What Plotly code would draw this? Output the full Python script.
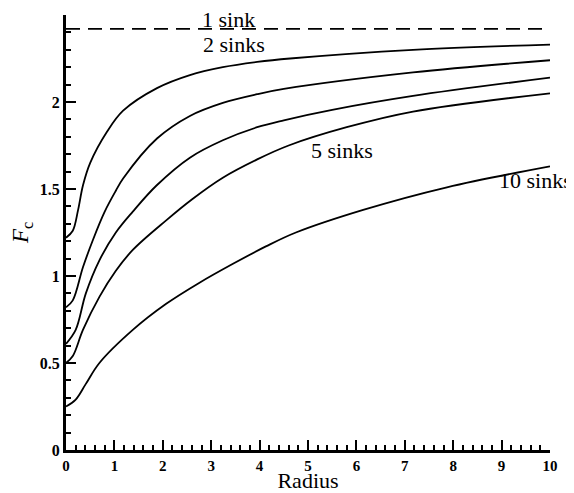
import plotly.graph_objects as go

# ---- data ----
one_sink_level = 2.42

x_2 = [0, 0.14, 0.25, 0.35, 0.5, 0.85, 1.18, 1.88, 2.56, 3.24, 3.95, 4.63, 7.17, 10]
y_2 = [1.22, 1.26, 1.38, 1.52, 1.65, 1.83, 1.95, 2.08, 2.155, 2.20, 2.23, 2.25, 2.30, 2.33]

x_3 = [0, 0.14, 0.35, 0.56, 0.8, 1.03, 1.18, 1.88, 2.56, 3.24, 3.95, 4.5, 7.17, 10]
y_3 = [0.82, 0.86, 1.05, 1.21, 1.37, 1.49, 1.56, 1.79, 1.92, 1.995, 2.045, 2.075, 2.17, 2.24]

x_4 = [0, 0.2, 0.41, 0.69, 1.03, 1.38, 1.87, 2.56, 3.24, 3.95, 4.5, 5.5, 7.17, 10]
y_4 = [0.61, 0.69, 0.90, 1.09, 1.25, 1.37, 1.52, 1.68, 1.78, 1.855, 1.895, 1.955, 2.035, 2.14]

x_5 = [0, 0.14, 0.35, 0.69, 1.03, 1.38, 2.07, 2.6, 3.24, 3.95, 4.6, 5.8, 7.17, 10]
y_5 = [0.50, 0.54, 0.69, 0.88, 1.03, 1.15, 1.32, 1.44, 1.565, 1.67, 1.75, 1.855, 1.945, 2.05]

x_10 = [0, 0.2, 0.41, 0.69, 1.38, 2.07, 2.75, 3.45, 4.13, 4.75, 6.14, 7.87, 10]
y_10 = [0.25, 0.29, 0.38, 0.50, 0.69, 0.84, 0.96, 1.07, 1.17, 1.25, 1.38, 1.51, 1.63]

label_text = ["1 sink", "2 sinks", "5 sinks", "10 sinks"]
label_x = [3.35, 3.47, 5.70, 9.71]
label_y = [2.475, 2.33, 1.72, 1.55]

x_ticks = list(range(0, 11))
y_ticks = [0, 0.5, 1, 1.5, 2, 2.5]
y_tick_text = ["0", "0.5", "1", "1.5", "2", "2.5"]

FONT = "Liberation Serif"

fig = go.Figure()
fig.add_trace(go.Scatter(x=[0, 10], y=[one_sink_level, one_sink_level], mode="lines",
                         line=dict(color="black", width=1.6, dash="14px,8px"), showlegend=False))
for xs, ys in [(x_2, y_2), (x_3, y_3), (x_4, y_4), (x_5, y_5), (x_10, y_10)]:
    fig.add_trace(go.Scatter(x=xs, y=ys, mode="lines",
                             line=dict(color="black", width=1.8, shape="spline", smoothing=1.0),
                             showlegend=False))

for t, lx, ly in zip(label_text, label_x, label_y):
    fig.add_annotation(x=lx, y=ly, text=t, showarrow=False, xanchor="center", yanchor="middle",
                       font=dict(family=FONT, size=22, color="black"))

# the page body has an 8px margin, so the figure is sized to fit the window
fig.update_layout(
    width=566, height=485,
    margin=dict(l=58, r=24, t=7, b=43, autoexpand=False),
    paper_bgcolor="white", plot_bgcolor="white",
    font=dict(family=FONT, color="black"),
)
fig.update_xaxes(
    range=[0, 10], showgrid=False, zeroline=False, automargin=False,
    showline=True, linecolor="black", linewidth=3,
    ticks="inside", ticklen=10, tickwidth=2, tickcolor="black",
    tickvals=x_ticks, ticktext=[str(v) for v in x_ticks],
    tickfont=dict(family=FONT, size=15, color="black", weight="bold"),
    minor=dict(ticks="inside", ticklen=5, tickwidth=1.5, tickcolor="black", dtick=0.2, showgrid=False),
    title=dict(text="Radius", font=dict(family=FONT, size=22, color="black"), standoff=6),
)
fig.update_yaxes(
    range=[0, 2.5], showgrid=False, zeroline=False, automargin=False,
    showline=True, linecolor="black", linewidth=3,
    ticks="inside", ticklen=10, tickwidth=2, tickcolor="black",
    tickvals=y_ticks, ticktext=y_tick_text,
    tickfont=dict(family=FONT, size=16, color="black", weight="bold"),
    minor=dict(ticks="inside", ticklen=5, tickwidth=1.5, tickcolor="black", dtick=0.1, showgrid=False),
    title=dict(text="<i>F</i><sub>c</sub>", font=dict(family=FONT, size=23, color="black"), standoff=6),
)

fig.write_html("out.html")
